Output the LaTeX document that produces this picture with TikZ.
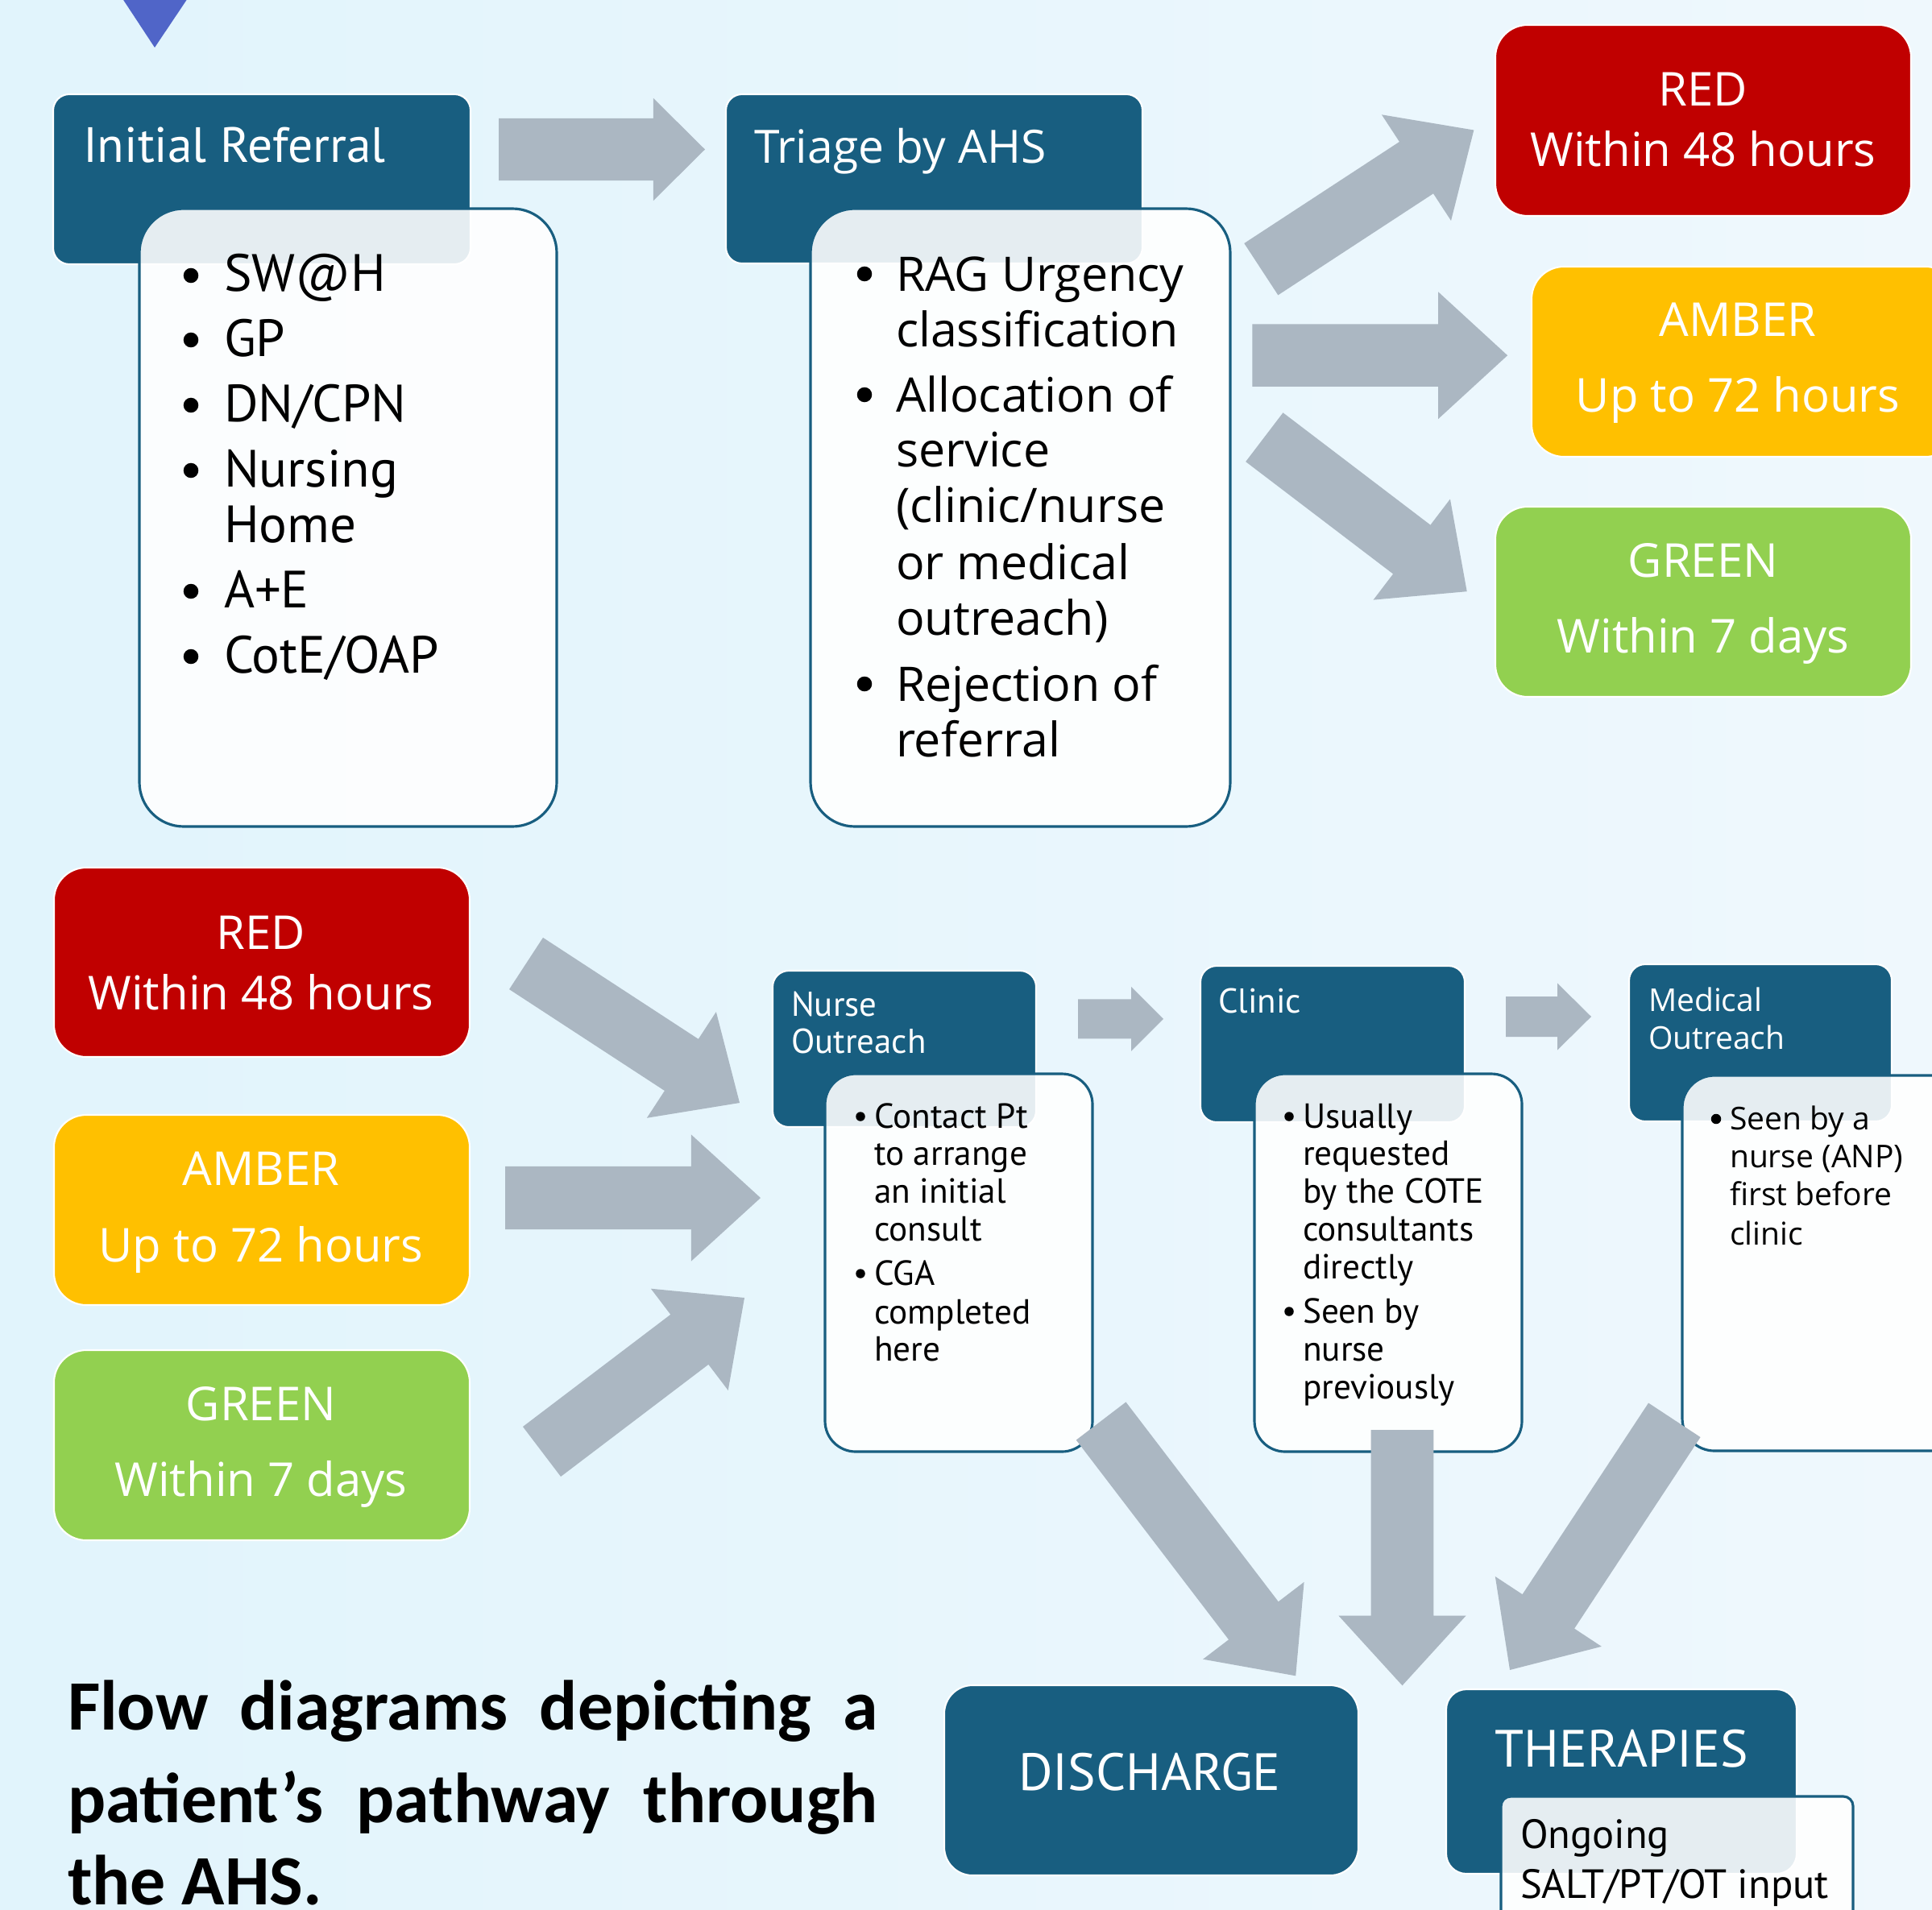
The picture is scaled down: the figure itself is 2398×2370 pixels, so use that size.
\documentclass[tikz,border=0pt]{standalone}
\usepackage{fontspec}
\setmainfont{Open Sans}
\newfontfamily\nf{PT Sans}
\newfontfamily\cf{Carlito}
\usetikzlibrary{calc,fit}
\definecolor{dblue}{HTML}{185E80}
\definecolor{agray}{HTML}{ABB7C2}
\definecolor{cred}{HTML}{C00000}
\definecolor{camber}{HTML}{FFC000}
\definecolor{cgreen}{HTML}{92D050}
\definecolor{trimark}{HTML}{5065C8}
\definecolor{bgL}{HTML}{E1F4FC}
\definecolor{bgR}{HTML}{EFF8FD}
\newcommand\fs[1]{\fontsize{#1}{#1}\selectfont}
% block arrow: tail, tip, shaft half width, head half width, head length
\newcommand\blockarrow[5]{%
  \path ($(#2)!#5!(#1)$) coordinate (#1-#2-b);
  \fill[agray] ($(#1)!#3!90:(#2)$) -- ($(#1-#2-b)!#3!90:(#2)$) -- ($(#1-#2-b)!#4!90:(#2)$)
    -- (#2) -- ($(#1-#2-b)!#4!-90:(#2)$) -- ($(#1-#2-b)!#3!-90:(#2)$) -- ($(#1)!#3!-90:(#2)$) -- cycle;
}
\tikzset{
  dbox/.style={fill=dblue, draw=white, line width=0.6pt, rounded corners=0.2cm, inner sep=0pt},
  lbox/.style={fill=white, fill opacity=0.89, draw=dblue, line width=0.9pt, inner sep=0pt},
  cbox/.style={draw=white, line width=0.6pt, rounded corners=0.4cm, inner sep=0pt},
  txt/.style={inner sep=0pt, outer sep=0pt, anchor=base west},
  ctxt/.style={inner sep=0pt, outer sep=0pt, anchor=base, text=white, font=\fs{16.5}},
  hdtxt/.style={txt, text=white, font=\nf\fs{17.5}},
  hdwtxt/.style={txt, text=white, font=\fs{16.2}},
  irltxt/.style={txt, font=\nf\fs{18.5}},
  bigdot/.style={circle, fill=black, inner sep=0pt, minimum size=0.185cm},
  smdot/.style={circle, fill=black, inner sep=0pt, minimum size=0.115cm},
  triltxt/.style={txt, font=\fs{16.8}},
  smltxt/.style={txt, font=\nf\fs{12.3}},
  smhtxt/.style={txt, text=white, font=\nf\fs{12.2}},
  mdltxt/.style={txt, font=\fs{11.1}},
  mdhtxt/.style={txt, text=white, font=\fs{11.1}},
  captxt/.style={txt, font=\cf\bfseries\fs{25}},
}
\begin{document}
\begin{tikzpicture}[x=0.01cm, y=-0.01cm]
\useasboundingbox (0,0) rectangle (2398,2370);
\clip (0,0) rectangle (2398,2370);
\shade[left color=bgL, right color=bgR] (0,0) rectangle (2398,2370);
\fill[trimark] (140,-20) -- (245,-20) -- (192,59) -- cycle;

% ---------- top row ----------
\node[dbox, fit={(66,117) (584,328)}] (irh) {};
\node[hdtxt] (irhT) at (103,202) {Initial Referral};
\node[lbox, rounded corners=0.55cm, fit={(173,259) (691,1026)}] (irlist) {};
\foreach \t/\y [count=\k] in {SW@H/362, GP/442, {DN/CPN}/523, Nursing/604, Home/673, A+E/754, {CotE/OAP}/835}
  \node[irltxt] (irl\k) at (278,\y) {\t};
\foreach \y [count=\k] in {362,442,523,604,754,835}
  \node[bigdot] (irb\k) at (237,\y-20) {};

\node[dbox, fit={(901,117) (1418,327)}] (trh) {};
\node[hdwtxt] (trhT) at (936,203) {Triage by AHS};
\node[lbox, rounded corners=0.55cm, fit={(1006,259) (1527,1026)}] (trlist) {};
\foreach \t/\y [count=\k] in {RAG Urgency/361, classification/430, Allocation of/511, service/579, {(clinic/nurse}/648, or medical/719, {outreach)}/788, Rejection of/870, referral/939}
  \node[triltxt] (trl\k) at (1112,\y) {\t};
\foreach \y [count=\k] in {361,511,870}
  \node[bigdot] (trb\k) at (1073,\y-21) {};

\node[cbox, fill=cred, fit={(1856,31) (2372,268)}] (redA) {};
\node[ctxt] (redA1) at (2114,132) {RED};
\node[ctxt] (redA2) at (2114,207) {Within 48 hours};
\node[cbox, fill=camber, fit={(1901,331) (2430,567)}] (ambA) {};
\node[ctxt] (ambA1) at (2157,417) {AMBER};
\node[ctxt] (ambA2) at (2157,511) {Up to 72 hours};
\node[cbox, fill=cgreen, fit={(1856,629) (2372,865)}] (grnA) {};
\node[ctxt] (grnA1) at (2114,716) {GREEN};
\node[ctxt] (grnA2) at (2114,810) {Within 7 days};

% ---------- middle row ----------
\node[cbox, fill=cred, fit={(67,1077) (583,1312)}] (redB) {};
\node[ctxt] (redB1) at (324,1178) {RED};
\node[ctxt] (redB2) at (324,1253) {Within 48 hours};
\node[cbox, fill=camber, fit={(67,1384) (583,1620)}] (ambB) {};
\node[ctxt] (ambB1) at (324,1471) {AMBER};
\node[ctxt] (ambB2) at (324,1566) {Up to 72 hours};
\node[cbox, fill=cgreen, fit={(67,1676) (583,1912)}] (grnB) {};
\node[ctxt] (grnB1) at (324,1763) {GREEN};
\node[ctxt] (grnB2) at (324,1857) {Within 7 days};

\node[dbox, fit={(959,1205) (1286,1399)}] (nuh) {};
\node[smhtxt] (nuh1) at (982,1261) {Nurse};
\node[smhtxt] (nuh2) at (982,1307) {Outreach};
\node[lbox, rounded corners=0.38cm, fit={(1024,1333) (1356,1802)}] (nulist) {};
\foreach \t/\y [count=\k] in {Contact Pt/1400, to arrange/1446, an initial/1493, consult/1540, CGA/1595, completed/1643, here/1689}
  \node[smltxt] (nul\k) at (1085,\y) {\t};
\foreach \y [count=\k] in {1400,1595}
  \node[smdot] (nub\k) at (1068,\y-14) {};

\node[dbox, fit={(1490,1199) (1818,1393)}] (clh) {};
\node[smhtxt] (clh1) at (1512,1257) {Clinic};
\node[lbox, rounded corners=0.38cm, fit={(1557,1333) (1889,1802)}] (cllist) {};
\foreach \t/\y [count=\k] in {Usually/1400, requested/1446, by the COTE/1493, consultants/1540, directly/1587, Seen by/1642, nurse/1689, previously/1736}
  \node[smltxt] (cll\k) at (1617,\y) {\t};
\foreach \y [count=\k] in {1400,1642}
  \node[smdot] (clb\k) at (1600,\y-14) {};

\node[dbox, fit={(2022,1197) (2348,1392)}] (mdh) {};
\node[mdhtxt] (mdh1) at (2046,1255) {Medical};
\node[mdhtxt] (mdh2) at (2046,1302) {Outreach};
\node[lbox, rounded corners=0.4cm, fit={(2088,1335) (2460,1801)}] (mdlist) {};
\foreach \t/\y [count=\k] in {Seen by a/1402, nurse (ANP)/1449, first before/1496, clinic/1545}
  \node[mdltxt] (mdl\k) at (2147,\y) {\t};
\node[smdot, minimum size=0.125cm] (mdb1) at (2130,1389) {};

% ---------- bottom row ----------
\node[dbox, rounded corners=0.35cm, fit={(1172,2092) (1686,2328)}] (dis) {};
\node[inner sep=0pt, anchor=base, text=white, font=\nf\fs{18.5}] (disT) at (1427,2222) {DISCHARGE};
\node[dbox, rounded corners=0.25cm, fit={(1795,2097) (2230,2326)}] (thh) {};
\node[inner sep=0pt, anchor=base, text=white, font=\nf\fs{18.5}] (thhT) at (2013,2193) {THERAPIES};
\node[lbox, rounded corners=0.12cm, fit={(1863,2230) (2300,2430)}] (thlist) {};
\node[txt, font=\nf\fs{14.4}] (thl1) at (1887,2294) {Ongoing};
\node[txt, font=\nf\fs{14.4}] (thl2) at (1887,2356) {SALT/PT/OT input};

\node[captxt] (cap1) at (84,2147) {\makebox[10.05cm][s]{Flow diagrams depicting a}};
\node[captxt] (cap2) at (84,2262) {\makebox[10.05cm][s]{patient’s pathway through}};
\node[captxt] (cap3) at (84,2364) {the AHS.};

% ---------- arrows ----------
\coordinate (a1t) at (619,185.5);   \coordinate (a1h) at (875,185.5);
\coordinate (t1t) at (1565.3,334.2); \coordinate (t1h) at (1829.3,161.5);
\coordinate (t2t) at (1554.4,441.2); \coordinate (t2h) at (1871.1,441.2);
\coordinate (t3t) at (1569.3,542.7); \coordinate (t3h) at (1820.7,734.2);
\coordinate (m1t) at (653,1196);     \coordinate (m1h) at (918,1369);
\coordinate (m2t) at (627,1487);     \coordinate (m2h) at (944,1487);
\coordinate (m3t) at (672.5,1802);   \coordinate (m3h) at (924,1611);
\coordinate (n1t) at (1338,1264.8);  \coordinate (n1h) at (1444,1264.8);
\coordinate (c1t) at (1869,1262);    \coordinate (c1h) at (1975,1262);
\coordinate (d1t) at (1366.6,1764);  \coordinate (d1h) at (1608.2,2080.3);
\coordinate (d2t) at (1740.5,1775);  \coordinate (d2h) at (1740.5,2092.3);
\coordinate (d3t) at (2078.3,1762.8); \coordinate (d3h) at (1874,2073);

\blockarrow{a1t}{a1h}{0.385cm}{0.635cm}{0.64cm}
\blockarrow{t1t}{t1h}{0.384cm}{0.786cm}{0.852cm}
\blockarrow{t2t}{t2h}{0.387cm}{0.788cm}{0.859cm}
\blockarrow{t3t}{t3h}{0.382cm}{0.786cm}{0.86cm}
\blockarrow{m1t}{m1h}{0.383cm}{0.786cm}{0.861cm}
\blockarrow{m2t}{m2h}{0.39cm}{0.785cm}{0.86cm}
\blockarrow{m3t}{m3h}{0.389cm}{0.792cm}{0.856cm}
\blockarrow{n1t}{n1h}{0.245cm}{0.40cm}{0.40cm}
\blockarrow{c1t}{c1h}{0.25cm}{0.415cm}{0.42cm}
\blockarrow{d1t}{d1h}{0.388cm}{0.789cm}{0.862cm}
\blockarrow{d2t}{d2h}{0.388cm}{0.79cm}{0.866cm}
\blockarrow{d3t}{d3h}{0.386cm}{0.79cm}{0.869cm}
\end{tikzpicture}
\end{document}
